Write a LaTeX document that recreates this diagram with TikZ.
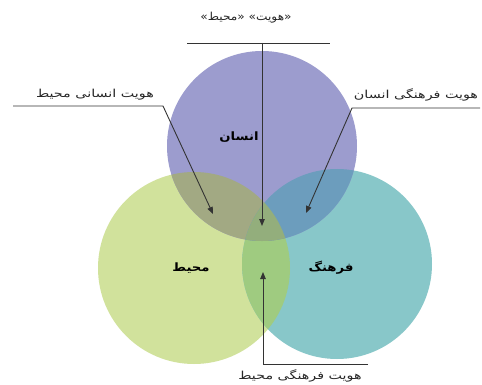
\documentclass[tikz,border=0pt]{standalone}
\usepackage{fontspec}
\newfontfamily\fa[Script=Arabic]{DejaVu Sans}
\TeXXeTstate=1
\usetikzlibrary{arrows.meta}
\definecolor{cTop}{HTML}{9C9CCE}
\definecolor{cLeft}{HTML}{D1E29C}
\definecolor{cRight}{HTML}{88C7C9}
\definecolor{cTL}{HTML}{A2A983}
\definecolor{cTR}{HTML}{6C9DBD}
\definecolor{cLR}{HTML}{9FCB80}
\definecolor{cTLR}{HTML}{93AE7C}
\definecolor{lineC}{HTML}{333333}
\tikzset{
  lbl/.style={font=\fa\fontsize{11}{13}\selectfont, inner sep=0pt, text=black!85, xscale=1.3},
  ctr/.style={font=\fa\bfseries\fontsize{11.5}{13}\selectfont, inner sep=0pt, text=black, xscale=1.15},
  conn/.style={draw=lineC, line width=0.9pt},
  arr/.style={conn, -{Triangle[length=7pt,width=5.5pt]}},
}
\begin{document}
\begin{tikzpicture}[x=1pt,y=-1pt]
\useasboundingbox (0,0) rectangle (482,385);
\fill[white] (0,0) rectangle (482,385);
% circles
\def\cT{(262,146) circle (95)}
\def\cL{(194,268) circle (96)}
\def\cR{(337,264) circle (95)}
\fill[cLeft] \cL;
\fill[cRight] \cR;
\fill[cTop] \cT;
\begin{scope}\clip \cL; \fill[cLR] \cR; \end{scope}
\begin{scope}\clip \cT; \fill[cTL] \cL; \fill[cTR] \cR; \end{scope}
\begin{scope}\clip \cT; \clip \cL; \fill[cTLR] \cR; \end{scope}
% center labels
\node[ctr] (ensan) at (239,137) {\beginR انسان\endR};
\node[ctr] (mohit) at (191,268) {\beginR محیط\endR};
\node[ctr] (farhang) at (331,268) {\beginR فرهنگ\endR};
% labels
\node[lbl, xscale=0.85] (top) at (246,18) {\beginR «هویت» «محیط»\endR};
\node[lbl] (left) at (95,95) {\beginR هویت انسانی محیط\endR};
\node[lbl] (right) at (416,95) {\beginR هویت فرهنگی انسان\endR};
\node[lbl] (bottom) at (300,376) {\beginR هویت فرهنگی محیط\endR};
% connector coordinates
\coordinate (t1) at (187,43);
\coordinate (t2) at (330,43);
\coordinate (tm) at (262,43);
\coordinate (tipT) at (262,226);
\coordinate (l1) at (13,106);
\coordinate (l2) at (163,106);
\coordinate (tipL) at (213,214);
\coordinate (r1) at (480,108);
\coordinate (r2) at (352,108);
\coordinate (tipR) at (306,213);
\coordinate (b1) at (368,364);
\coordinate (b2) at (263,364);
\coordinate (tipB) at (263,272);
% connectors
\draw[conn] (t1) -- (t2);
\draw[arr] (tm) -- (tipT);
\draw[arr] (l1) -- (l2) -- (tipL);
\draw[arr] (r1) -- (r2) -- (tipR);
\draw[arr] (b1) -- (b2) -- (tipB);
\end{tikzpicture}
\end{document}
